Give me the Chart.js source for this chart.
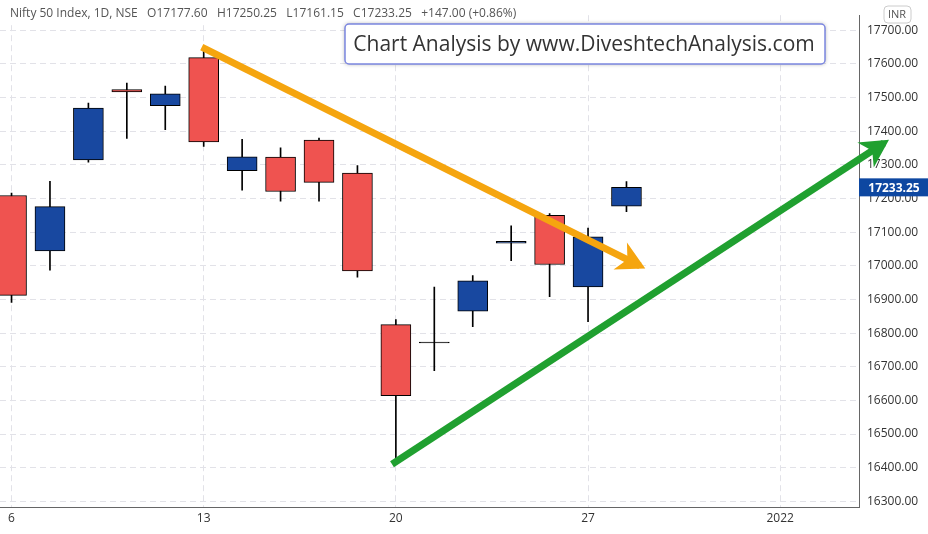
<!DOCTYPE html>
<html>
<head>
<meta charset="utf-8">
<script src="https://cdn.jsdelivr.net/npm/chart.js@4.4.0/dist/chart.umd.min.js"></script>
<style>
  html, body { margin: 0; padding: 0; background: #fff; }
  #wrap { width: 928px; height: 534px; }
</style>
</head>
<body>
<div id="wrap"><canvas id="c" width="928" height="534"></canvas></div>
<script>
// Nifty 50, daily, Dec 2021
const days = ['6', '7', '8', '9', '10', '13', '14', '15', '16', '17', '20', '21', '22', '23', '24', '27', '28'];
const opens = [17209, 17044, 17315, 17524, 17476, 17619, 17283, 17323, 17374, 17276, 16825, 16773, 16865, 17067, 17150, 16937, 17177.6];
const highs = [17216, 17251, 17484, 17543, 17534, 17639, 17376, 17351, 17380, 17298, 16840, 16937, 16971, 17119, 17155, 17112, 17250.25];
const lows = [16891, 16987, 17308, 17379, 17405, 17355, 17225, 17192, 17192, 16966, 16410, 16688, 16819, 17015, 16908, 16834, 17161.15];
const closes = [16912, 17176, 17469, 17517, 17511, 17368, 17324, 17221, 17248, 16985, 16614, 16771, 16955, 17073, 17004, 17086, 17233.25];
const xTicks = { 0: '6', 5: '13', 10: '20', 15: '27', 20: '2022' };
const orangeTrend = [{ x: 4.95, y: 17650 }, { x: 16.35, y: 17000 }];
const greenTrend = [{ x: 9.9, y: 16410 }, { x: 22.7, y: 17365 }];

const UP = '#1848a0';
const DOWN = '#ef5350';

const candleColor = (i) => {
  if (Math.abs(closes[i] - opens[i]) < 3) return '#000';
  return closes[i] >= opens[i] ? UP : DOWN;
};

const overlay = {
  id: 'overlay',
  afterDatasetsDraw(chart) {
    const { ctx } = chart;
    // arrow heads
    chart.data.datasets.forEach((ds, di) => {
      if (ds.type !== 'line') return;
      const pts = chart.getDatasetMeta(di).data;
      const p0 = pts[0], p1 = pts[1];
      const ang = Math.atan2(p1.y - p0.y, p1.x - p0.x);
      ctx.save();
      ctx.translate(p1.x, p1.y);
      ctx.rotate(ang);
      ctx.fillStyle = ds.borderColor;
      ctx.beginPath();
      ctx.moveTo(6, 0);
      ctx.lineTo(-22, -15);
      ctx.lineTo(-14, 0);
      ctx.lineTo(-22, 15);
      ctx.closePath();
      ctx.fill();
      ctx.restore();
    });
  },
  afterDraw(chart) {
    const { ctx, chartArea: a } = chart;
    ctx.save();
    ctx.textBaseline = 'middle';
    // header
    ctx.fillStyle = '#fff';
    ctx.fillRect(6, 5, 580, 18);
    ctx.font = '12px "Open Sans", sans-serif';
    ctx.fillStyle = '#555';
    ctx.fillText('Nifty 50 Index, 1D, NSE   O17177.60   H17250.25   L17161.15   C17233.25   +147.00 (+0.86%)', 10, 14);
    // watermark box
    ctx.fillStyle = '#fff';
    ctx.strokeStyle = '#7b86e0';
    ctx.lineWidth = 1.5;
    ctx.shadowColor = 'rgba(0,0,0,0.35)';
    ctx.shadowBlur = 4;
    ctx.beginPath();
    ctx.roundRect(345, 24, 480, 40, 4);
    ctx.fill();
    ctx.shadowBlur = 0;
    ctx.stroke();
    ctx.fillStyle = '#333';
    ctx.font = '21px "Open Sans", sans-serif';
    ctx.textAlign = 'center';
    ctx.fillText('Chart Analysis by www.DiveshtechAnalysis.com', 584, 45);
    // INR box
    ctx.strokeStyle = '#ccc';
    ctx.lineWidth = 1;
    ctx.beginPath();
    ctx.roundRect(884, 6, 27, 17, 4);
    ctx.stroke();
    ctx.fillStyle = '#555';
    ctx.font = '11px "Open Sans", sans-serif';
    ctx.fillText('INR', 897, 15);
    // last price tag
    const y = chart.scales.y.getPixelForValue(closes[closes.length - 1]);
    ctx.fillStyle = '#0d47a1';
    ctx.fillRect(a.right, y - 9, 928 - a.right, 18);
    ctx.fillStyle = '#fff';
    ctx.font = 'bold 12px "Open Sans", sans-serif';
    ctx.fillText('17233.25', 894, y + 1);
    ctx.restore();
  }
};

new Chart(document.getElementById('c'), {
  data: {
    datasets: [
      {
        type: 'bar',
        label: 'wick',
        data: days.map((d, i) => ({ x: i, y: [lows[i], highs[i]] })),
        backgroundColor: '#000',
        barThickness: 1,
        grouped: false,
        order: 3,
      },
      {
        type: 'bar',
        label: 'body',
        data: days.map((d, i) => ({ x: i, y: [opens[i], closes[i]] })),
        backgroundColor: days.map((d, i) => candleColor(i)),
        borderColor: '#000',
        borderWidth: 1,
        borderSkipped: false,
        barThickness: 30,
        grouped: false,
        order: 2,
      },
      {
        type: 'line',
        data: orangeTrend,
        borderColor: '#f5a50f',
        borderWidth: 7,
        pointRadius: 0,
        clip: false,
        order: 1,
      },
      {
        type: 'line',
        data: greenTrend,
        borderColor: '#20a030',
        borderWidth: 7,
        pointRadius: 0,
        clip: false,
        order: 1,
      },
    ],
  },
  options: {
    responsive: false,
    animation: false,
    layout: { padding: 0 },
    plugins: { legend: { display: false }, tooltip: { enabled: false } },
    scales: {
      x: {
        type: 'linear',
        offset: false,
        min: -0.3,
        max: 22.05,
        afterBuildTicks: (s) => { s.ticks = Object.keys(xTicks).map((v) => ({ value: Number(v) })); },
        afterFit: (s) => { s.height = 27; },
        ticks: { callback: (v) => xTicks[v] || '', color: '#333', font: { size: 12, family: 'Open Sans' }, maxRotation: 0, padding: 4 },
        grid: { color: '#e2e2e8', drawTicks: false, offset: false },
        border: { display: true, color: '#666', dash: [6, 4] },
      },
      y: {
        position: 'right',
        min: 16283,
        max: 17745,
        afterBuildTicks: (s) => {
          const t = [];
          for (let v = 16300; v <= 17700; v += 100) t.push({ value: v });
          s.ticks = t;
        },
        afterFit: (s) => { s.width = 69; },
        ticks: { callback: (v) => v.toFixed(2), color: '#333', font: { size: 12, family: 'Open Sans' }, padding: 8 },
        grid: { color: '#e2e2e8', drawTicks: false },
        border: { display: true, color: '#666', dash: [6, 4] },
      },
    },
  },
  plugins: [overlay],
});
</script>
</body>
</html>
